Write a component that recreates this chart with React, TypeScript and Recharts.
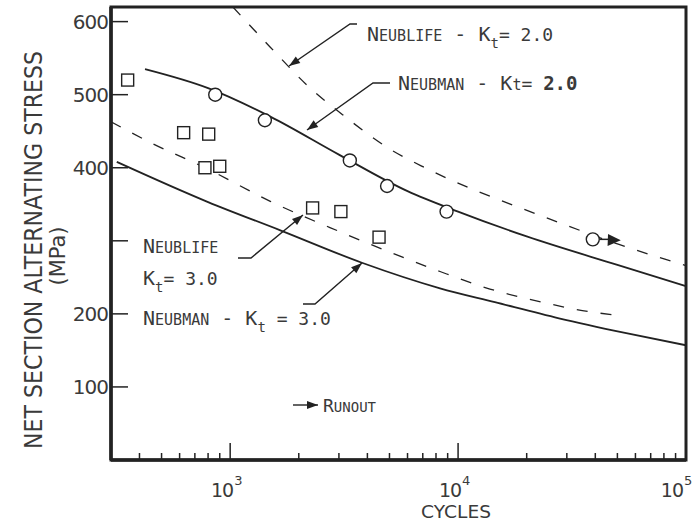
import React from 'react';
import { ComposedChart, Line, Scatter, XAxis, YAxis, ReferenceArea, Customized } from 'recharts';

// cycles / net section alternating stress (MPa)
const neubman2Cycles = [423, 800, 1500, 3000, 6000, 10000, 20000, 50000, 100000];
const neubman2Stress = [535, 509, 470, 418, 368, 340, 306, 267, 238];

const neublife2Cycles = [1028, 1500, 2175, 3190, 4875, 7160, 11270, 16720, 27700, 50800, 100000];
const neublife2Stress = [620, 565, 513, 470, 428, 400, 372, 351, 325, 295, 266];

const neublife3Cycles = [300, 450, 800, 1500, 3000, 5560, 8330, 13800, 23350, 37500, 47300];
const neublife3Stress = [463, 434, 398, 354, 313, 279, 258, 234, 216, 203, 199];

const neubman3Cycles = [318, 800, 1670, 3785, 8330, 14500, 27700, 54000, 100000];
const neubman3Stress = [408, 353, 314, 270, 235, 216, 194, 174, 157];

const kt2TestCycles = [860, 1420, 3350, 4880, 8900, 39000];
const kt2TestStress = [500, 465, 410, 375, 340, 302];
const kt2Runout = [false, false, false, false, false, true];

const kt3TestCycles = [355, 625, 805, 775, 900, 2300, 3060, 4500];
const kt3TestStress = [520, 448, 446, 400, 402, 345, 340, 305];

const xTicks = [400, 500, 600, 700, 800, 900, 1000, 2000, 3000, 4000, 5000, 6000, 7000, 8000, 9000,
  10000, 20000, 30000, 40000, 50000, 60000, 70000, 80000, 90000, 100000];
const xMajor: Record<number, string> = { 1000: '3', 10000: '4', 100000: '5' };
const yTicks = [100, 200, 300, 400, 500, 600];
const yLabels: Record<number, string> = { 100: '100', 200: '200', 400: '400', 500: '500', 600: '600' };

const toPoints = (n: number[], s: number[]) => n.map((v, i) => ({ n: v, s: s[i] }));

const neubman2 = toPoints(neubman2Cycles, neubman2Stress);
const neublife2 = toPoints(neublife2Cycles, neublife2Stress);
const neublife3 = toPoints(neublife3Cycles, neublife3Stress);
const neubman3 = toPoints(neubman3Cycles, neubman3Stress);
const kt2Tests = kt2TestCycles.map((v, i) => ({ n: v, s: kt2TestStress[i], runout: kt2Runout[i] }));
const kt3Tests = toPoints(kt3TestCycles, kt3TestStress);

const INK = '#222';
const TXT = '#3a3a3a';
const MONO = '"DejaVu Sans Mono", monospace';
const SANS = '"DejaVu Sans", sans-serif';

const arrowHead = (x1: number, y1: number, x2: number, y2: number, size = 11, half = 4) => {
  const a = Math.atan2(y2 - y1, x2 - x1);
  const bx = x2 - size * Math.cos(a);
  const by = y2 - size * Math.sin(a);
  const px = -Math.sin(a) * half;
  const py = Math.cos(a) * half;
  return `${x2},${y2} ${bx + px},${by + py} ${bx - px},${by - py}`;
};

const Leader = ({ pts }: { pts: number[][] }) => {
  const last = pts[pts.length - 1];
  const prev = pts[pts.length - 2];
  return (
    <g>
      <polyline points={pts.map((p) => p.join(',')).join(' ')} fill="none" stroke={INK} strokeWidth={1.4} />
      <polygon points={arrowHead(prev[0], prev[1], last[0], last[1])} fill={INK} />
    </g>
  );
};

const XTick = (props: any) => {
  const { x, y, payload } = props;
  const sup = xMajor[payload.value];
  const shift = payload.value === 100000 ? -6 : 0;
  return (
    <g>
      <line x1={x} y1={y} x2={x} y2={y - (sup ? 17 : 7)} stroke={INK} strokeWidth={1.5} />
      {sup && (
        <text x={x + 3 + shift} y={y + 37} textAnchor="end" fontFamily={SANS} fontSize={19} fill={TXT} letterSpacing={-1}>
          10
        </text>
      )}
      {sup && (
        <text x={x + 4 + shift} y={y + 25} fontFamily={SANS} fontSize={13} fill={TXT}>
          {sup}
        </text>
      )}
    </g>
  );
};

const YTick = (props: any) => {
  const { x, y, payload } = props;
  const label = yLabels[payload.value];
  return (
    <g>
      <line x1={x} y1={y} x2={x + 17} y2={y} stroke={INK} strokeWidth={1.5} />
      {label && (
        <text x={x - 3} y={y + 7} textAnchor="end" fontFamily={SANS} fontSize={20} fill={TXT} letterSpacing={-1}>
          {label}
        </text>
      )}
    </g>
  );
};

const CircleShape = (props: any) => {
  const { cx, cy, payload } = props;
  return (
    <g>
      {payload.runout && (
        <g>
          <line x1={cx + 7} y1={cy} x2={cx + 20} y2={cy} stroke={INK} strokeWidth={1.5} />
          <polygon points={arrowHead(cx, cy, cx + 28, cy + 1, 13, 6)} fill={INK} />
        </g>
      )}
      <circle cx={cx} cy={cy} r={6.5} fill="#fff" stroke={INK} strokeWidth={1.4} />
    </g>
  );
};

const SquareShape = (props: any) => {
  const { cx, cy } = props;
  return <rect x={cx - 6} y={cy - 6} width={12} height={12} fill="#fff" stroke={INK} strokeWidth={1.4} />;
};

const Annotations = () => (
  <g fontFamily={MONO} fill={TXT} style={{ whiteSpace: 'pre' }}>
    <text x={367} y={41}>
      <tspan fontSize={20}>N</tspan>
      <tspan fontSize={15}>EUBLIFE</tspan>
      <tspan fontSize={20}> - K</tspan>
      <tspan fontSize={14} dy={7}>t</tspan>
      <tspan fontSize={18} dy={-7}>= 2.0</tspan>
    </text>
    <Leader pts={[[357, 24], [350, 24], [289, 66]]} />

    <text x={398} y={90}>
      <tspan fontSize={20}>N</tspan>
      <tspan fontSize={15}>EUBMAN</tspan>
      <tspan fontSize={20}> - K</tspan>
      <tspan fontSize={15}>t</tspan>
      <tspan fontSize={18}>= </tspan>
      <tspan fontSize={19} fontWeight="bold">2.0</tspan>
    </text>
    <Leader pts={[[390, 83], [373, 83], [307, 130]]} />

    <text x={143} y={253}>
      <tspan fontSize={20}>N</tspan>
      <tspan fontSize={15}>EUBLIFE</tspan>
    </text>
    <text x={143} y={285}>
      <tspan fontSize={20}>K</tspan>
      <tspan fontSize={14} dy={7}>t</tspan>
      <tspan fontSize={18} dy={-7}>= 3.0</tspan>
    </text>
    <Leader pts={[[238, 258], [251, 258], [303, 215]]} />

    <text x={143} y={325}>
      <tspan fontSize={20}>N</tspan>
      <tspan fontSize={15}>EUBMAN</tspan>
      <tspan fontSize={20}> - K</tspan>
      <tspan fontSize={14} dy={7}>t</tspan>
      <tspan fontSize={18} dy={-7}> = 3.0</tspan>
    </text>
    <Leader pts={[[303, 304], [315, 304], [362, 263]]} />

    <Leader pts={[[293, 405], [318, 405]]} />
    <text x={323} y={412}>
      <tspan fontSize={18}>R</tspan>
      <tspan fontSize={14}>UNOUT</tspan>
    </text>

    <text
      x={42}
      y={250}
      transform="rotate(-90, 42, 250)"
      textAnchor="middle"
      fontFamily={SANS}
      fontSize={24}
      textLength={398}
      lengthAdjust="spacingAndGlyphs"
    >
      NET SECTION ALTERNATING STRESS
    </text>
    <text x={65} y={256} transform="rotate(-90, 65, 256)" textAnchor="middle" fontFamily={SANS} fontSize={21}>
      (MPa)
    </text>
    <text x={456} y={518} textAnchor="middle" fontFamily={SANS} fontSize={18} textLength={70} lengthAdjust="spacingAndGlyphs">
      CYCLES
    </text>
  </g>
);

export default function App() {
  return (
    <div style={{ position: 'absolute', left: 0, top: 0, width: 695, height: 521, background: '#fff' }}>
      <ComposedChart width={695} height={521} margin={{ top: 7, right: 9, left: 0, bottom: 0 }}>
        <XAxis
          dataKey="n"
          type="number"
          scale="log"
          domain={[300, 100000]}
          allowDataOverflow
          ticks={xTicks}
          interval={0}
          height={61}
          tickLine={false}
          tickSize={0}
          tickMargin={0}
          axisLine={{ stroke: INK, strokeWidth: 3.5 }}
          tick={<XTick />}
        />
        <YAxis
          type="number"
          domain={[0, 620]}
          allowDataOverflow
          ticks={yTicks}
          interval={0}
          width={111}
          tickLine={false}
          tickSize={0}
          tickMargin={0}
          axisLine={{ stroke: INK, strokeWidth: 3.5 }}
          tick={<YTick />}
        />
        <ReferenceArea x1={300} x2={100000} y1={0} y2={620} fill="none" stroke={INK} strokeWidth={3} />
        <Line data={neubman2} dataKey="s" type="monotone" stroke={INK} strokeWidth={1.8} dot={false} isAnimationActive={false} />
        <Line data={neublife2} dataKey="s" type="monotone" stroke={INK} strokeWidth={1.3} strokeDasharray="11 13" dot={false} isAnimationActive={false} />
        <Line data={neublife3} dataKey="s" type="monotone" stroke={INK} strokeWidth={1.3} strokeDasharray="11 13" dot={false} isAnimationActive={false} />
        <Line data={neubman3} dataKey="s" type="monotone" stroke={INK} strokeWidth={1.8} dot={false} isAnimationActive={false} />
        <Scatter data={kt2Tests} dataKey="s" shape={<CircleShape />} isAnimationActive={false} />
        <Scatter data={kt3Tests} dataKey="s" shape={<SquareShape />} isAnimationActive={false} />
        <Customized component={<Annotations />} />
      </ComposedChart>
    </div>
  );
}
